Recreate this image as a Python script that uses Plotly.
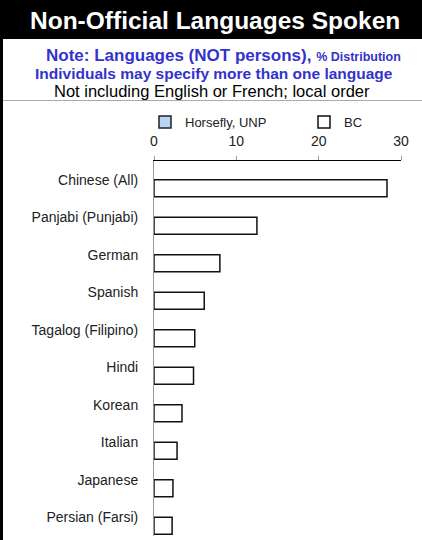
import plotly.graph_objects as go

categories = ["Chinese (All)", "Panjabi (Punjabi)", "German", "Spanish",
              "Tagalog (Filipino)", "Hindi", "Korean", "Italian", "Japanese",
              "Persian (Farsi)"]
horsefly_unp = [None, None, None, None, None, None, None, None, None, None]
bc = [28.3, 12.5, 8.0, 6.1, 4.95, 4.8, 3.4, 2.8, 2.3, 2.2]
x_ticks = [0, 10, 20, 30]

W, H = 422, 540
ML, MR, MT, MB = 154, 21, 161, 4
PW, PH = W - ML - MR, H - MT - MB

def px_x(px):
    return (px - ML) / PW

def px_y(py):
    return (H - MB - py) / PH

FONT = "Liberation Sans, Arial, sans-serif"
BLUE = "#3333CC"

fig = go.Figure()
fig.add_trace(go.Bar(y=categories, x=horsefly_unp, orientation="h", name="Horsefly, UNP",
                     legend="legend",
                     marker=dict(color="#B7D5F2", line=dict(color="#222", width=1.5))))
fig.add_trace(go.Bar(y=categories, x=bc, orientation="h", name="BC",
                     legend="legend2",
                     marker=dict(color="white", line=dict(color="#111", width=1.5))))

shapes = [
    dict(type="rect", xref="paper", yref="paper", x0=px_x(0), x1=px_x(W), y0=px_y(39), y1=px_y(-2),
         fillcolor="black", line=dict(width=0), layer="below"),
    dict(type="line", xref="paper", yref="paper", x0=px_x(1.5), x1=px_x(1.5), y0=px_y(39), y1=px_y(H + 2),
         line=dict(color="black", width=3)),
    dict(type="line", xref="paper", yref="paper", x0=px_x(3), x1=px_x(W), y0=px_y(100.5), y1=px_y(100.5),
         line=dict(color="#AAAAAA", width=1)),
]

annotations = [
    dict(text="<b>Non-Official Languages Spoken</b>", x=px_x(215), y=px_y(20), xref="paper", yref="paper",
         showarrow=False, font=dict(family=FONT, size=24.5, color="white"), xanchor="center", yanchor="middle"),
    dict(text="<b>Note: Languages (NOT persons), <span style='font-size:12.5px'>% Distribution</span></b>",
         x=px_x(223), y=px_y(56), xref="paper", yref="paper", showarrow=False,
         font=dict(family=FONT, size=17, color=BLUE), xanchor="center", yanchor="middle"),
    dict(text="<b>Individuals may specify more than one language</b>", x=px_x(214), y=px_y(73),
         xref="paper", yref="paper", showarrow=False,
         font=dict(family=FONT, size=15.5, color=BLUE), xanchor="center", yanchor="middle"),
    dict(text="Not including English or French; local order", x=px_x(212), y=px_y(91),
         xref="paper", yref="paper", showarrow=False,
         font=dict(family=FONT, size=16.5, color="black"), xanchor="center", yanchor="middle"),
]

legend_common = dict(orientation="h", xanchor="left", yanchor="middle",
                     font=dict(family=FONT, size=13, color="#222"),
                     bgcolor="rgba(0,0,0,0)", itemwidth=30)

fig.update_layout(
    width=W, height=H, margin=dict(l=ML, r=MR, t=MT, b=MB),
    paper_bgcolor="white", plot_bgcolor="white",
    barmode="group", bargap=0.09, bargroupgap=0,
    font=dict(family=FONT, size=14, color="#222"),
    shapes=shapes, annotations=annotations,
    showlegend=True,
    legend=dict(x=px_x(145), y=px_y(122), **legend_common),
    legend2=dict(x=px_x(304), y=px_y(122), **legend_common),
    xaxis=dict(side="top", range=[0, 30], tickvals=x_ticks, showgrid=False, zeroline=False,
               showline=True, linecolor="black", linewidth=1, ticks="outside", ticklen=4,
               ticklabelstandoff=4,
               tickcolor="#999", tickfont=dict(size=14, color="#222"), fixedrange=True),
    yaxis=dict(autorange="reversed", showline=True, linecolor="#999", linewidth=1, ticks="",
               ticklabelstandoff=12, showgrid=False, tickfont=dict(size=14, color="#222"),
               fixedrange=True),
)

fig.write_html("out.html", config={"displayModeBar": False},
               post_script="document.body.style.margin='0';")
